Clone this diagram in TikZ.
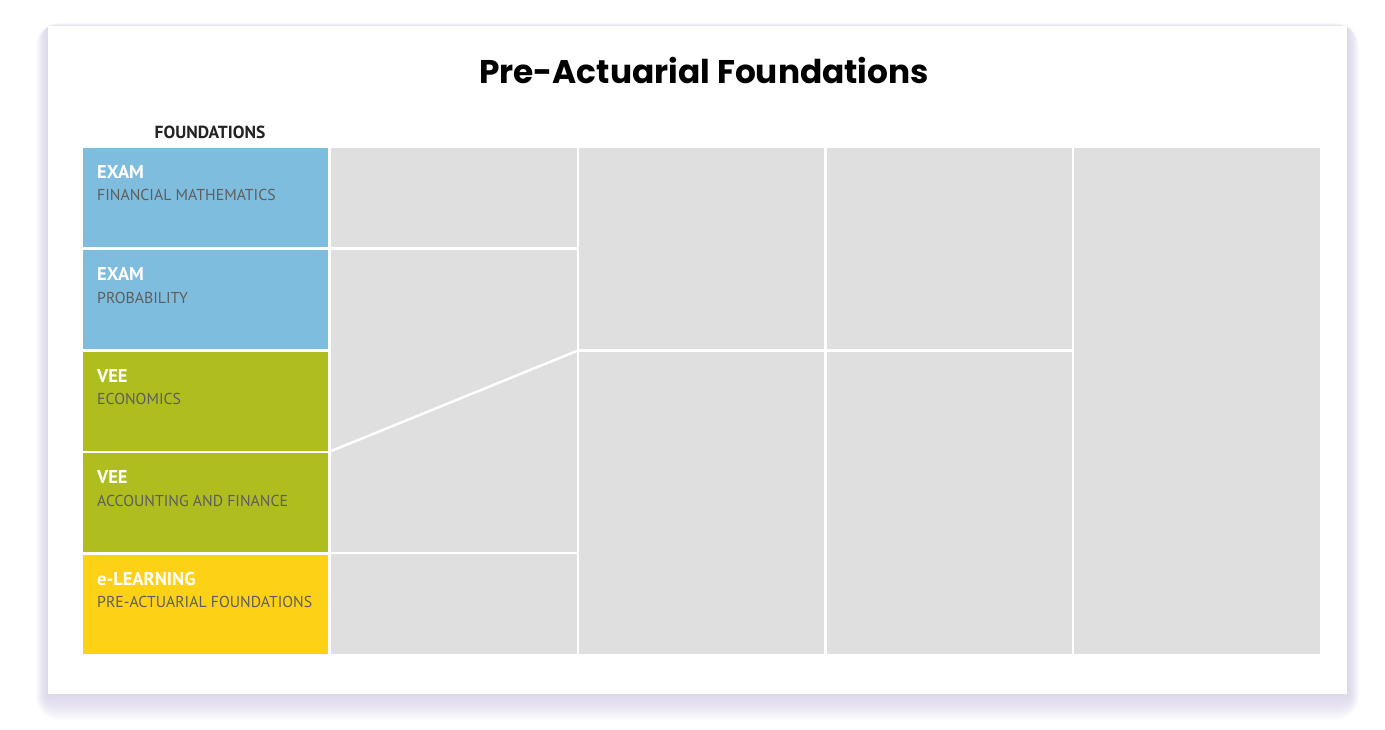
\documentclass[tikz,border=0pt]{standalone}
\usepackage{fontspec}
\setmainfont{PT Sans}
\newfontfamily\titlefont{Poppins}
\definecolor{cardshadow}{HTML}{CFC8EC}
\definecolor{cellgray}{HTML}{DFDFDF}
\definecolor{examblue}{HTML}{7FBDDF}
\definecolor{veegreen}{HTML}{AFBD1E}
\definecolor{learnyellow}{HTML}{FDD116}
\definecolor{subgray}{HTML}{5E5E5E}
\definecolor{headdark}{HTML}{222222}
\begin{document}
\begin{tikzpicture}[x=1pt,y=-1pt,
  leftbox/.style={draw=none,minimum width=245pt,minimum height=99pt,inner sep=0pt,anchor=north west},
  cell/.style={fill=cellgray,draw=none},
  sep/.style={draw=white,line width=2.5pt},
  kind/.style={anchor=base west,text=white,font=\fontsize{18.5}{21}\selectfont\bfseries,inner sep=0pt},
  topic/.style={anchor=base west,text=subgray,font=\fontsize{15.8}{19}\selectfont,inner sep=0pt}]
\useasboundingbox (0,0) rectangle (1385,730);
\fill[white] (0,0) rectangle (1385,730);
% shadow
\foreach \i in {1,...,24}{
  \fill[cardshadow,opacity=0.035,rounded corners=\i pt] (48-\i*0.5,26-\i*0.2+2) rectangle (1347+\i*0.5,694+\i*1.1);
}
\node[draw=none,fill=white,minimum width=1299pt,minimum height=668pt,inner sep=0pt,anchor=north west] (card) at (48,26) {};
% title
\node[font=\titlefont\fontsize{32.8}{38}\selectfont\bfseries,text=black,anchor=base] (title) at (704,84) {Pre-Actuarial Foundations};
\node[font=\fontsize{17.5}{20}\selectfont\bfseries,text=headdark,anchor=base] (foundhead) at (210,139) {FOUNDATIONS};
% left boxes
\node[leftbox,fill=examblue] (fm) at (83,148) {};
\node[leftbox,fill=examblue] (prob) at (83,250) {};
\node[leftbox,fill=veegreen] (econ) at (83,351.5) {};
\node[leftbox,fill=veegreen] (acct) at (83,453) {};
\node[leftbox,fill=learnyellow] (elearn) at (83,554.5) {};
\foreach \b/\k/\t in {fm/EXAM/FINANCIAL MATHEMATICS, prob/EXAM/PROBABILITY, econ/VEE/ECONOMICS, acct/VEE/ACCOUNTING AND FINANCE, elearn/e-LEARNING/PRE-ACTUARIAL FOUNDATIONS}{
  \node[kind] (\b k) at ([xshift=14pt,yshift=-30.5pt]\b.north west) {\k};
  \node[topic] (\b t) at ([xshift=14pt,yshift=-53pt]\b.north west) {\t};
}
% gray grid
\fill[cell] (331,148) rectangle (1320,653.5);
\coordinate (dA) at (330,451.5);
\coordinate (dB) at (578,350.5);
\draw[sep] (578,147) -- (578,654.5);
\draw[sep] (825.5,147) -- (825.5,654.5);
\draw[sep] (1073,147) -- (1073,654.5);
\draw[sep] (330,248.5) -- (578,248.5);
\draw[sep] (330,553) -- (578,553);
\draw[sep] (578,350.5) -- (1073,350.5);
\draw[sep] (dA) -- (dB);
\end{tikzpicture}
\end{document}
